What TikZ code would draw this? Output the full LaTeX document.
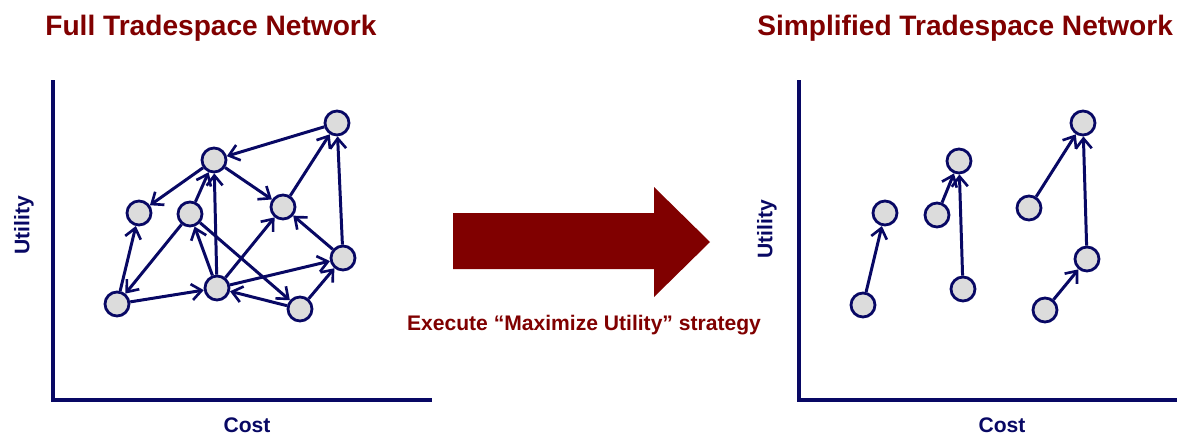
\documentclass[tikz,border=0pt]{standalone}
\usepackage{fontspec}
\setmainfont{Liberation Sans}
\usetikzlibrary{arrows.meta}
\definecolor{navyblue}{RGB}{8,8,100}
\definecolor{darkred}{RGB}{128,0,0}
\definecolor{nodegray}{RGB}{220,220,220}
\begin{document}
\begin{tikzpicture}[x=0.02cm,y=-0.02cm,
  state/.style={circle,draw=navyblue,fill=nodegray,line width=1.6pt,minimum size=0.48cm,inner sep=0pt},
  link/.style={navyblue,line width=1.7pt,-{Straight Barb[length=2mm,width=3.2mm,line width=1.5pt]}},
  axis/.style={navyblue,line width=2pt},
  title/.style={darkred,font=\fontsize{16}{19}\selectfont\bfseries,anchor=base west,inner sep=0pt},
  axislabel/.style={navyblue,font=\fontsize{12}{14}\selectfont\bfseries,inner sep=0pt}]
\useasboundingbox (0,0) rectangle (1178,436);
% titles
\node[title] (fulltitle) at (45,35) {Full Tradespace Network};
\node[title] (simptitle) at (757,35) {Simplified Tradespace Network};
% axes
\draw[axis] (53,80) -- (53,400) -- (432,400);
\draw[axis] (799,80) -- (799,400) -- (1177,400);
\node[axislabel,anchor=base] (costl) at (247,432) {Cost};
\node[axislabel,anchor=base] (costr) at (1002,432) {Cost};
\node[axislabel,rotate=90] (utill) at (24,225) {Utility};
\node[axislabel,rotate=90] (utilr) at (767,229) {Utility};
% full network
\node[state] (t) at (337,123) {};
\node[state] (a) at (214,160) {};
\node[state] (l) at (139,213) {};
\node[state] (m) at (190,214) {};
\node[state] (r) at (283,207) {};
\node[state] (fr) at (343,258) {};
\node[state] (bl) at (117,304) {};
\node[state] (bc) at (217,288) {};
\node[state] (br) at (300,309) {};
\foreach \from/\to in {t/a,a/l,a/r,r/t,fr/t,m/a,bc/a,bl/l,m/bl,bl/bc,bc/m,m/br,bc/r,bc/fr,fr/r,br/bc,br/fr}
  \draw[link] (\from) -- (\to);
% big arrow
\fill[darkred] (453,213) -- (654,213) -- (654,187) -- (710,242) -- (654,297) -- (654,269) -- (453,269) -- cycle;
\node[darkred,font=\fontsize{12}{14}\selectfont\bfseries,anchor=base,inner sep=0pt] (strategy) at (584,330) {Execute “Maximize Utility” strategy};
% simplified network
\node[state] (a1) at (885,213) {};
\node[state] (a2) at (863,305) {};
\node[state] (b1) at (959,161) {};
\node[state] (b2) at (937,215) {};
\node[state] (b3) at (963,289) {};
\node[state] (c1) at (1083,123) {};
\node[state] (c2) at (1029,208) {};
\node[state] (c3) at (1087,259) {};
\node[state] (c4) at (1045,310) {};
\foreach \from/\to in {a2/a1,b2/b1,b3/b1,c2/c1,c3/c1,c4/c3}
  \draw[link] (\from) -- (\to);
\end{tikzpicture}
\end{document}
